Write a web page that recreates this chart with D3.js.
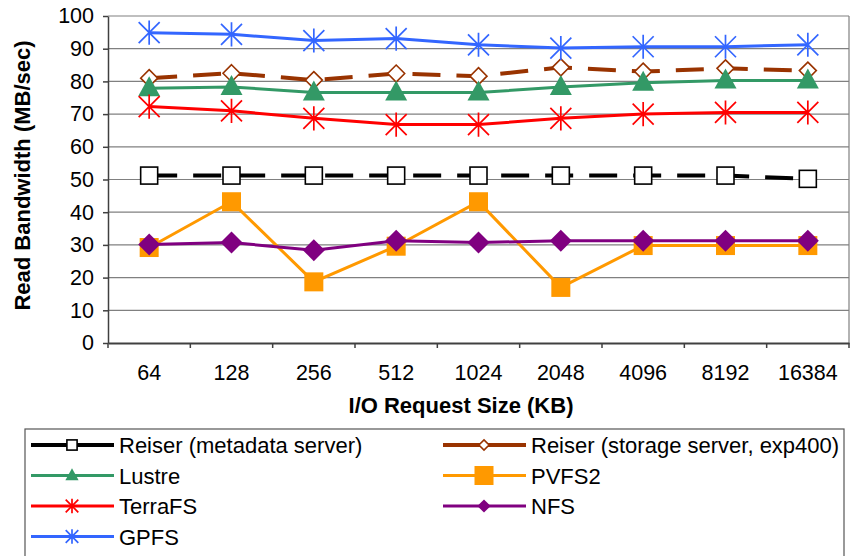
<!DOCTYPE html>
<html><head><meta charset="utf-8">
<script src="https://cdn.jsdelivr.net/npm/d3@7"></script>
<style>body{margin:0;background:#fff}svg{display:block;font-family:"Liberation Sans",Arial,sans-serif}</style>
</head><body><svg id="c" width="851" height="556"></svg>
<script>
const categories = ["64","128","256","512","1024","2048","4096","8192","16384"];
const yTicks = [0,10,20,30,40,50,60,70,80,90,100];
const reiserMeta    = [51.2,51.2,51.2,51.2,51.2,51.2,51.2,51.2,50.2];
const reiserStorage = [81.0,82.5,80.4,82.4,81.6,84.3,83.0,84.0,83.3];
const lustre        = [77.9,78.3,76.6,76.6,76.6,78.3,79.6,80.3,80.3];
const pvfs2         = [29.2,43.2,18.7,29.6,43.2,17.0,29.8,29.8,29.8];
const terrafs       = [72.3,71.0,68.7,66.8,66.8,68.7,70.0,70.5,70.5];
const nfs           = [30.1,30.7,28.4,31.3,30.7,31.3,31.3,31.3,31.3];
const gpfs          = [94.9,94.4,92.5,93.1,91.2,90.2,90.6,90.6,91.2];
const seriesNames = ["Reiser (metadata server)","Reiser (storage server, exp400)","Lustre","PVFS2","TerraFS","NFS","GPFS"];

const series = [
 {name:seriesNames[0], values:reiserMeta, color:"#000000", dash:"28,16", width:4, marker:"openSquare"},
 {name:seriesNames[1], values:reiserStorage, color:"#993300", dash:"28,16", width:4, marker:"openDiamond"},
 {name:seriesNames[2], values:lustre, color:"#339966", dash:null, width:3, marker:"triangle"},
 {name:seriesNames[3], values:pvfs2, color:"#FF9900", dash:null, width:3, marker:"square"},
 {name:seriesNames[4], values:terrafs, color:"#FF0000", dash:null, width:3, marker:"star"},
 {name:seriesNames[5], values:nfs, color:"#800080", dash:null, width:3, marker:"diamond"},
 {name:seriesNames[6], values:gpfs, color:"#3366FF", dash:null, width:3, marker:"star"}
];

const svg = d3.select("#c");
const L=108, R=849, T=16, B=343;
const x = d3.scaleBand().domain(categories).range([L,R]);
const y = d3.scaleLinear().domain([0,100]).range([B,T]);

// grid
svg.append("g").selectAll("line").data(yTicks.filter(d=>d>0)).join("line")
 .attr("x1",L).attr("x2",R).attr("y1",d=>y(d)).attr("y2",d=>y(d))
 .attr("stroke","#808080").attr("stroke-width",1.2);
svg.append("line").attr("x1",R).attr("x2",R).attr("y1",T).attr("y2",B).attr("stroke","#808080").attr("stroke-width",1.2);

// axes
const yAx = svg.append("g").attr("transform",`translate(${L},0)`)
 .call(d3.axisLeft(y).tickValues(yTicks).tickSize(5).tickSizeOuter(0).tickPadding(9));
yAx.selectAll("text").attr("font-size",21.5).attr("fill","#000").attr("font-family","Liberation Sans, Arial");
yAx.selectAll("line,path").attr("stroke","#404040").attr("stroke-width",1.5);

const xTickScale = d3.scalePoint().domain(d3.range(categories.length+1)).range([L,R]);
const xAx = svg.append("g").attr("transform",`translate(0,${B})`)
 .call(d3.axisBottom(x).tickSize(0).tickPadding(22));
xAx.selectAll("text").attr("font-size",21.5).attr("fill","#000").attr("font-family","Liberation Sans, Arial");
xAx.select("path").attr("stroke","#404040").attr("stroke-width",2);
svg.append("g").selectAll("line").data(d3.range(categories.length+1)).join("line")
 .attr("x1",d=>xTickScale(d)).attr("x2",d=>xTickScale(d)).attr("y1",B).attr("y2",B+5)
 .attr("stroke","#404040").attr("stroke-width",1.5);

svg.append("text").attr("x",461).attr("y",413).attr("text-anchor","middle")
 .attr("font-size",22).attr("font-weight","bold").text("I/O Request Size (KB)");
svg.append("text").attr("transform",`translate(30,${(T+B)/2 - 4}) rotate(-90)`).attr("text-anchor","middle")
 .attr("font-size",22).attr("font-weight","bold").text("Read Bandwidth (MB/sec)");

function drawMarker(g, type, color, s){
  s = s||1;
  if(type==="openSquare") g.append("rect").attr("x",-8.5*s).attr("y",-8.5*s).attr("width",17*s).attr("height",17*s).attr("fill","#fff").attr("stroke",color).attr("stroke-width",1.6);
  else if(type==="openDiamond") g.append("path").attr("d",`M0,${-8.5*s}L${8.5*s},0L0,${8.5*s}L${-8.5*s},0Z`).attr("fill","#fff").attr("stroke",color).attr("stroke-width",1.6);
  else if(type==="triangle") g.append("path").attr("d",`M0,${-12*s}L${11*s},${8*s}L${-11*s},${8*s}Z`).attr("fill",color);
  else if(type==="square") g.append("rect").attr("x",-9.5*s).attr("y",-9.5*s).attr("width",19*s).attr("height",19*s).attr("fill",color);
  else if(type==="diamond") g.append("path").attr("d",`M0,${-11*s}L${11*s},0L0,${11*s}L${-11*s},0Z`).attr("fill",color);
  else if(type==="star"){
    const r=10.5*s;
    g.append("path").attr("d",`M${-r},${-r}L${r},${r}M${-r},${r}L${r},${-r}M0,${-r*1.15}L0,${r*1.15}`)
     .attr("stroke",color).attr("stroke-width",1.7).attr("fill","none");
  }
}

const line = d3.line().x((d,i)=>x(categories[i])+x.bandwidth()/2).y(d=>y(d));
series.forEach(s=>{
  const g = svg.append("g");
  g.append("path").attr("d",line(s.values)).attr("fill","none").attr("stroke",s.color)
   .attr("stroke-width",s.width).attr("stroke-dasharray",s.dash);
  s.values.forEach((v,i)=>{
    const m = g.append("g").attr("transform",`translate(${x(categories[i])+x.bandwidth()/2},${y(v)})`);
    drawMarker(m, s.marker, s.color);
  });
});

// legend
svg.append("rect").attr("x",25).attr("y",429).attr("width",819).attr("height",140)
 .attr("fill","#fff").attr("stroke","#555").attr("stroke-width",1.2);
const legPos = [[0,0],[1,0],[0,1],[1,1],[0,2],[1,2],[0,3]];
series.forEach((s,i)=>{
  const [c,r] = legPos[i];
  const lx = c===0?31:443, ly = 445 + r*30.5;
  const g = svg.append("g");
  g.append("line").attr("x1",lx).attr("x2",lx+83).attr("y1",ly).attr("y2",ly)
   .attr("stroke",s.color).attr("stroke-width",s.width);
  const m = g.append("g").attr("transform",`translate(${lx+41},${ly})`);
  drawMarker(m, s.marker, s.color, s.marker==="square"?1:0.6);
  g.append("text").attr("x",lx+88).attr("y",ly+8).attr("font-size",22).text(s.name);
});
</script></body></html>
